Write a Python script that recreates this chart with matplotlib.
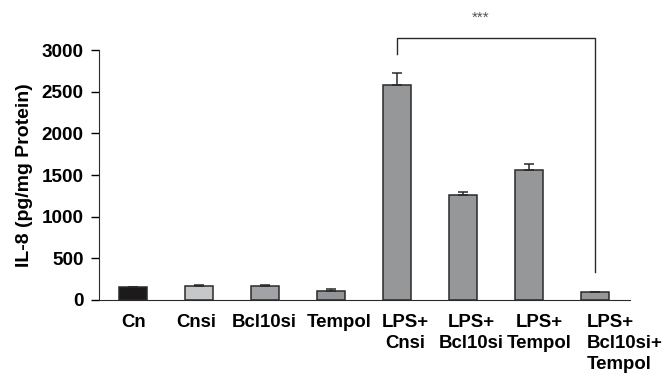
# IL-8 bar chart with significance bracket
import numpy as np
import matplotlib
matplotlib.use("Agg")
import matplotlib.pyplot as plt
from matplotlib.transforms import ScaledTranslation

plt.rcParams['font.family'] = ['Liberation Sans', 'DejaVu Sans']

# data
groups = ["Cn", "Cnsi", "Bcl10si", "Tempol", "LPS+\nCnsi", "LPS+\nBcl10si",
          "LPS+\nTempol", "LPS+\nBcl10si+\nTempol"]
il8 = [160, 162, 162, 105, 2580, 1260, 1555, 100]
err = [0, 18, 18, 22, 150, 35, 72, 0]
colors = ["#1c1a1b", "#c6c7c9", "#a2a3a6", "#949598", "#969799", "#969799",
          "#969799", "#969799"]

# significance bracket between LPS+Cnsi and LPS+Bcl10si+Tempol
sig_pair = (4, 7)
sig_text = "***"

fig = plt.figure(figsize=(6.64, 3.74), dpi=100)
ax = fig.add_axes([0.149, 0.198, 0.80, 0.668])

x = np.arange(len(groups))
ax.bar(x, il8, width=0.42, color=colors, edgecolor="#2a2a2a", linewidth=1.1,
       yerr=[np.zeros(len(err)), err], error_kw=dict(ecolor="#2a2a2a", elinewidth=1.1,
                                                     capsize=3.6, capthick=1.1))

ax.set_xlim(-0.52, 7.53)
ax.set_ylim(0, 3000)
ax.set_yticks([0, 500, 1000, 1500, 2000, 2500, 3000])
ax.set_xticks(x)
ax.set_xticklabels(groups, fontsize=13.4, fontweight="bold", linespacing=1.33)
ax.tick_params(axis="x", length=0, pad=10)
ax.tick_params(axis="y", labelsize=13.6, length=6, width=1, direction="out", pad=5)
for lab in ax.get_yticklabels():
    lab.set_fontweight("bold")

# labels sit a little off their bars in the original (pixel shifts)
label_dx = [0, -3, -1, 8, 8, 8, 10, -8]
for lab, dx in zip(ax.get_xticklabels(), label_dx):
    lab.set_transform(lab.get_transform() + ScaledTranslation(dx / 100, 0, fig.dpi_scale_trans))
last = ax.get_xticklabels()[-1]
last.set_horizontalalignment("left")
last.set_multialignment("left")

ax.set_ylabel("IL-8 (pg/mg Protein)", fontsize=14, fontweight="bold", labelpad=6)

ax.spines["top"].set_visible(False)
ax.spines["right"].set_visible(False)
ax.spines["left"].set_color("#2a2a2a")
ax.spines["bottom"].set_color("#2a2a2a")

# bracket
i, j = sig_pair
ax.plot([i, i, j, j], [2950, 3150, 3150, 330], color="#2a2a2a", lw=1.0, clip_on=False)
ax.text(5.26, 3310, sig_text, ha="center", va="bottom", fontsize=11, color="#555555")

fig.savefig("out.png", dpi=100)
